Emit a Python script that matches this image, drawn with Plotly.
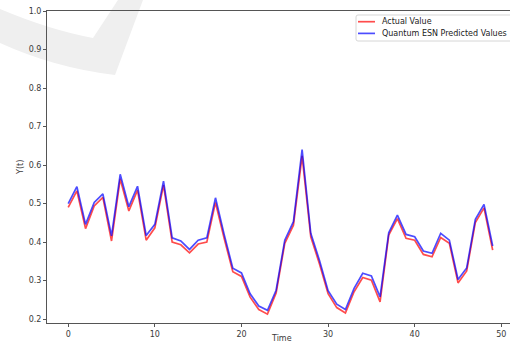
import plotly.graph_objects as go

# Time index and the two series
time = list(range(50))
actual = [0.490, 0.533, 0.435, 0.494, 0.516, 0.403, 0.564, 0.481, 0.535, 0.405,
          0.437, 0.548, 0.400, 0.393, 0.372, 0.395, 0.400, 0.503, 0.410, 0.323,
          0.311, 0.257, 0.225, 0.213, 0.268, 0.397, 0.444, 0.624, 0.414, 0.344,
          0.266, 0.230, 0.216, 0.271, 0.308, 0.301, 0.245, 0.418, 0.461, 0.410,
          0.405, 0.368, 0.362, 0.412, 0.397, 0.294, 0.325, 0.451, 0.489, 0.379]
predicted = [0.500, 0.544, 0.446, 0.503, 0.525, 0.416, 0.576, 0.492, 0.545, 0.417,
             0.446, 0.558, 0.411, 0.403, 0.381, 0.405, 0.411, 0.515, 0.420, 0.332,
             0.320, 0.266, 0.234, 0.223, 0.275, 0.405, 0.453, 0.640, 0.423, 0.353,
             0.274, 0.239, 0.225, 0.280, 0.319, 0.312, 0.258, 0.424, 0.470, 0.420,
             0.414, 0.377, 0.371, 0.423, 0.405, 0.303, 0.333, 0.459, 0.498, 0.390]

series_names = ["Actual Value", "Quantum ESN Predicted Values"]
series_colors = ["rgba(255,0,0,0.7)", "rgba(0,0,255,0.7)"]

y_ticks = [0.2, 0.3, 0.4, 0.5, 0.6, 0.7, 0.8, 0.9, 1.0]
x_ticks = [0, 10, 20, 30, 40, 50]

W, H = 510, 345
L, T, B, R = 47, 11, 22, 0
FONT = "DejaVu Sans"
INK = "#3a3a3a"


def px(x, y):
    """Pixel position -> paper coordinates."""
    return (x - L) / (W - L - R), (H - B - y) / (H - T - B)


def path(cmds, close=True):
    out = []
    for c, *pts in cmds:
        seg = c
        for (x, y) in pts:
            u, v = px(x, y)
            seg += f" {u:.4f},{v:.4f}"
        out.append(seg)
    return " ".join(out) + (" Z" if close else "")


fig = go.Figure()
for name, ys, col in zip(series_names, [actual, predicted], series_colors):
    fig.add_trace(go.Scatter(x=time, y=ys, mode="lines", name=name,
                             line=dict(color=col, width=1.7), showlegend=False))

# faint check-mark emblem in the top-left corner
mark = path([("M", (0, 9)), ("Q", (50, 30), (93, 38)), ("L", (118, 0)),
             ("L", (143, 0)), ("L", (115, 75)), ("Q", (55, 68), (0, 43))])
fig.add_shape(type="path", path=mark, xref="paper", yref="paper",
              fillcolor="#efefef", line=dict(width=0), layer="below")

# legend box drawn by hand for compact matplotlib-like spacing
r = 2
x0, y0, x1, y1 = 356, 15, 518, 41
box = path([("M", (x0 + r, y0)), ("L", (x1, y0)), ("L", (x1, y1)),
            ("L", (x0 + r, y1)), ("Q", (x0, y1), (x0, y1 - r)),
            ("L", (x0, y0 + r)), ("Q", (x0, y0), (x0 + r, y0))])
fig.add_shape(type="path", path=box, xref="paper", yref="paper",
              fillcolor="rgba(255,255,255,0.8)", line=dict(color="#d6d6d6", width=1),
              layer="above")
for i, (name, col) in enumerate(zip(series_names, series_colors)):
    yy = 21.7 + i * 11.7
    a, b = px(358, yy)
    c, d = px(375, yy)
    fig.add_shape(type="line", x0=a, y0=b, x1=c, y1=d, xref="paper", yref="paper",
                  line=dict(color=col, width=1.7), layer="above")
    tx, ty = px(380, yy)
    fig.add_annotation(text=name, x=tx, y=ty, xref="paper", yref="paper",
                       xanchor="left", yanchor="middle", showarrow=False,
                       font=dict(family=FONT, size=8, color="#222"))

axis_common = dict(showgrid=False, zeroline=False, showline=True,
                   linecolor="#555", linewidth=1, ticks="outside", ticklen=3,
                   tickcolor="#555", automargin=False,
                   tickfont=dict(family=FONT, size=8, color=INK))

# x axis mirrored to give the top frame line; right frame falls off the page
fig.update_xaxes(range=[-2.45, 51.0], tickvals=x_ticks, mirror=True, **axis_common)
fig.update_yaxes(range=[0.19, 1.0], tickvals=y_ticks, mirror=False,
                 ticktext=[f"{v:.1f}" for v in y_ticks], **axis_common)

# axis titles
tx, ty = px(281, 344.5)
fig.add_annotation(text="Time", x=tx, y=ty, xref="paper", yref="paper",
                   xanchor="center", yanchor="bottom", showarrow=False,
                   font=dict(family=FONT, size=8, color=INK))
lx, ly = px(20, 168)
fig.add_annotation(text="Y(t)", x=lx, y=ly, xref="paper", yref="paper",
                   xanchor="center", yanchor="middle", textangle=-90,
                   showarrow=False, font=dict(family=FONT, size=8, color=INK))

fig.update_layout(
    width=W, height=H,
    margin=dict(l=L, r=R, t=T, b=B, pad=0),
    paper_bgcolor="white", plot_bgcolor="rgba(0,0,0,0)",
    showlegend=False,
)

fig.write_html("out.html")
